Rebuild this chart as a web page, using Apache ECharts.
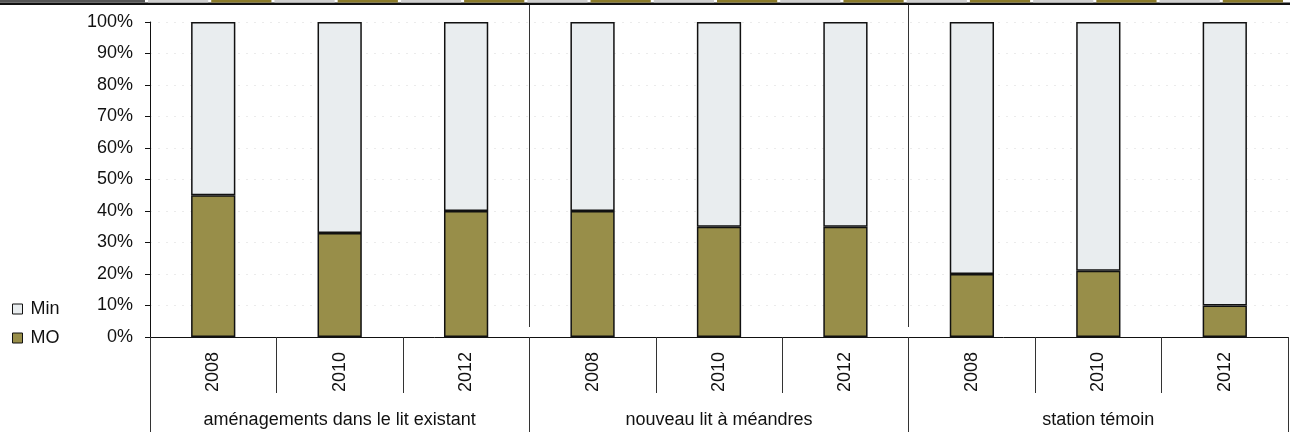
<!DOCTYPE html>
<html>
<head>
<meta charset="utf-8">
<script src="https://cdn.jsdelivr.net/npm/echarts@6/dist/echarts.min.js"></script>
<style>
  html, body { margin: 0; padding: 0; background: #fff; }
  #chart { width: 1292px; height: 432px; }
</style>
</head>
<body>
<div id="chart"></div>
<script>
// Site groups and survey years
const groups = ['aménagements dans le lit existant', 'nouveau lit à méandres', 'station témoin'];
const years = ['2008', '2010', '2012'];
// Share of organic matter (MO) per site and year, in %
const moValues = [45, 33, 40, 40, 35, 35, 20, 21, 10];
// Mineral share (Min) completes each column to 100 %
const minValues = [55, 67, 60, 60, 65, 65, 80, 79, 90];
const yTicks = [0, 10, 20, 30, 40, 50, 60, 70, 80, 90, 100];

const FONT = 'Liberation Sans, Arial, sans-serif';
const TEXT = '#111';
const MO_COLOR = '#988e49';
const MIN_COLOR = '#e9edef';

// one category per (group, year) pair
const cats = [];
groups.forEach(g => years.forEach(y => cats.push(g + '|' + y)));

const chart = echarts.init(document.getElementById('chart'), null, { renderer: 'canvas' });

const gridLeft = 150, gridRight = 4, gridTop = 22, gridBottom = 95;

// decorative table edge along the top of the figure
const plotW = 1292 - gridLeft - gridRight;
const cellW = plotW / 18;
const topCells = [];
for (let i = 0; i < 18; i++) {
  topCells.push({
    type: 'rect',
    shape: { x: gridLeft - 3 + i * cellW + 1, y: 0, width: cellW - 3, height: 2.5 },
    style: { fill: i % 2 === 0 ? '#cfcfcf' : '#8a7a2a' },
    silent: true
  });
}

chart.setOption({
  backgroundColor: '#fff',
  animation: false,
  textStyle: { fontFamily: FONT, color: TEXT },
  graphic: [
    { type: 'rect', shape: { x: 0, y: 2.5, width: 1290, height: 2.5 }, style: { fill: '#111' }, silent: true },
    { type: 'rect', shape: { x: 0, y: 0, width: 145, height: 2.5 }, style: { fill: '#555' }, silent: true }
  ].concat(topCells),
  legend: {
    orient: 'vertical',
    left: 7,
    top: 295,
    itemGap: 11,
    icon: 'rect',
    itemWidth: 10,
    itemHeight: 10,
    data: ['Min', 'MO'],
    textStyle: { fontFamily: FONT, fontSize: 18, color: TEXT, padding: [0, 0, 0, 3] },
    itemStyle: { borderColor: '#111', borderWidth: 1 }
  },
  grid: [
    { left: gridLeft, right: gridRight, top: gridTop, bottom: gridBottom, containLabel: false },
    { left: gridLeft, right: gridRight, top: 5, bottom: 105, containLabel: false }
  ],
  xAxis: [
    {
      type: 'category',
      gridIndex: 0,
      position: 'bottom',
      data: cats,
      boundaryGap: true,
      axisLine: { show: true, lineStyle: { color: '#111', width: 1 } },
      axisTick: { show: true, interval: 0, length: 56, lineStyle: { color: '#333', width: 1 } },
      axisLabel: {
        interval: 0,
        rotate: 90,
        margin: 15,
        fontSize: 18,
        fontFamily: FONT,
        color: TEXT,
        formatter: v => v.split('|')[1]
      },
      splitLine: { show: false }
    },
    {
      type: 'category',
      gridIndex: 0,
      position: 'bottom',
      data: groups,
      boundaryGap: true,
      axisLine: { show: false },
      axisTick: { show: true, interval: 0, length: 95, lineStyle: { color: '#333', width: 1 } },
      axisLabel: { interval: 0, margin: 74, fontSize: 18, fontFamily: FONT, color: TEXT },
      splitLine: { show: false }
    },
    {
      type: 'value',
      gridIndex: 1,
      min: 0,
      max: 9,
      show: false
    }
  ],
  yAxis: [
    {
      type: 'value',
      gridIndex: 0,
      min: 0,
      max: 100,
      interval: 10,
      axisLine: { show: true, lineStyle: { color: '#111', width: 1 } },
      axisTick: { show: true, inside: false, length: 5, lineStyle: { color: '#111' } },
      axisLabel: {
        margin: 17,
        fontSize: 18,
        fontFamily: FONT,
        color: TEXT,
        formatter: v => (yTicks.indexOf(v) >= 0 ? v + '%' : '')
      },
      splitLine: { show: true, lineStyle: { color: '#ebebeb', type: [2, 6], width: 1 } }
    },
    { type: 'value', gridIndex: 1, min: 0, max: 1, show: false }
  ],
  series: [
    {
      name: 'MO',
      type: 'bar',
      stack: 'total',
      xAxisIndex: 0,
      yAxisIndex: 0,
      barWidth: '35%',
      data: moValues,
      itemStyle: { color: MO_COLOR, borderColor: '#111', borderWidth: 1.5 }
    },
    {
      name: 'Min',
      type: 'bar',
      stack: 'total',
      xAxisIndex: 0,
      yAxisIndex: 0,
      barWidth: '35%',
      data: minValues,
      itemStyle: { color: MIN_COLOR, borderColor: '#111', borderWidth: 1.5 }
    },
    {
      // separators between site groups inside the plot
      name: 'sep',
      type: 'line',
      xAxisIndex: 2,
      yAxisIndex: 1,
      data: [],
      silent: true,
      markLine: {
        silent: true,
        symbol: 'none',
        label: { show: false },
        lineStyle: { color: '#333', width: 1, type: 'solid' },
        data: [{ xAxis: 3 }, { xAxis: 6 }]
      }
    }
  ]
});
</script>
</body>
</html>
